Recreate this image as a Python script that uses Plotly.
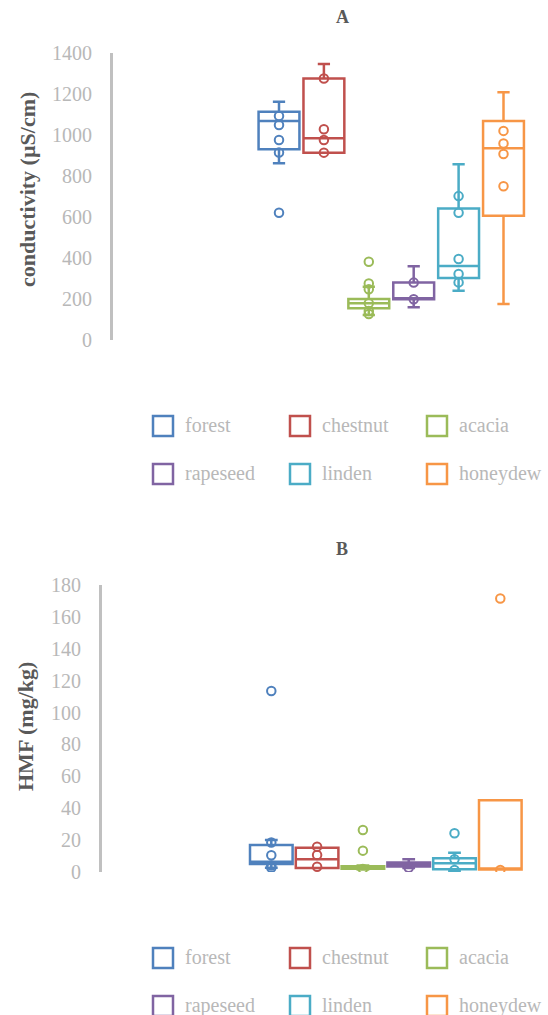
import plotly.graph_objects as go

# ---------------- data ----------------
categories = ["forest", "chestnut", "acacia", "rapeseed", "linden", "honeydew"]
colors = ["#4F81BD", "#C0504D", "#9BBB59", "#8064A2", "#4BACC6", "#F79646"]

# Panel A: conductivity (µS/cm)
cond_q1 = [930, 914, 155, 199, 302, 606]
cond_median = [1068, 984, 179, 204, 361, 935]
cond_q3 = [1114, 1276, 200, 281, 642, 1068]
cond_lower = [862, 914, 122, 160, 240, 176]
cond_upper = [1162, 1346, 260, 360, 857, 1208]
cond_points = [
    [1093, 1049, 976, 915, 621],
    [1276, 1028, 976, 914],
    [382, 276, 247, 179, 141, 127],
    [280, 199],
    [702, 621, 395, 322, 281],
    [1020, 959, 907, 750],
]
cond_ticks = [0, 200, 400, 600, 800, 1000, 1200, 1400]

# Panel B: HMF (mg/kg)
hmf_q1 = [5, 2.5, 2.0, 3.5, 1.7, 1.5]
hmf_median = [6.5, 8, 2.8, 4.5, 5.5, 1.5]
hmf_q3 = [17, 15.2, 3.6, 6, 8.6, 45]
hmf_lower = [2.7, 2.5, 1.5, 2.5, 0.5, 1.5]
hmf_upper = [20, 15.2, 4, 8, 12.1, 45]
hmf_points = [
    [113.5, 18.5, 10.5, 4, 2.7],
    [15.9, 10.7, 3.3],
    [26.3, 13.4, 1.9],
    [2.7],
    [24.3, 8, 1.3],
    [171.5, 1.3],
]
hmf_ticks = [0, 20, 40, 60, 80, 100, 120, 140, 160, 180]

# ---------------- layout helpers ----------------
W, H = 548, 1015
FONT = "Liberation Serif"
TICK_COLOR = "#b8b8b8"
TITLE_COLOR = "#595959"


def fx(px):
    return px / W


def fy(py):
    return 1 - py / H


fig = go.Figure()


def add_panel(xa, ya, q1, med, q3, lo, hi, pts, bw):
    for i, cat in enumerate(categories):
        fig.add_trace(go.Box(
            x=[cat], q1=[q1[i]], median=[med[i]], q3=[q3[i]],
            lowerfence=[lo[i]], upperfence=[hi[i]],
            width=bw, whiskerwidth=0.3, boxpoints=False,
            line=dict(color=colors[i], width=2.5),
            fillcolor="rgba(0,0,0,0)",
            xaxis=xa, yaxis=ya, name=cat, showlegend=False,
            hoverinfo="skip",
        ))
        fig.add_trace(go.Scatter(
            x=[cat] * len(pts[i]), y=pts[i], mode="markers",
            marker=dict(symbol="circle-open", size=8.5, color=colors[i],
                        line=dict(width=2, color=colors[i])),
            xaxis=xa, yaxis=ya, showlegend=False, hoverinfo="skip",
        ))


add_panel("x", "y", cond_q1, cond_median, cond_q3, cond_lower, cond_upper,
          cond_points, 0.91)
add_panel("x2", "y2", hmf_q1, hmf_median, hmf_q3, hmf_lower, hmf_upper,
          hmf_points, 0.93)

yaxis_common = dict(
    showline=True, linecolor="#c0c0c0", linewidth=3, showgrid=False,
    zeroline=False, ticks="", ticklabelstandoff=14, automargin=False,
    tickfont=dict(family=FONT, size=20, color=TICK_COLOR),
)

# pixel geometry of the two panels
top_left, top_c0, top_step = 113, 279, 44.9
bot_left, bot_c0, bot_step = 102, 271.3, 45.8
right = 540

fig.update_layout(
    width=W, height=H,
    margin=dict(l=0, r=0, t=0, b=0, pad=0, autoexpand=False),
    paper_bgcolor="white", plot_bgcolor="white",
    showlegend=False,
    xaxis=dict(domain=[fx(top_left), fx(right)], anchor="y", type="category",
               categoryorder="array", categoryarray=categories,
               range=[(top_left - top_c0) / top_step, (right - top_c0) / top_step],
               visible=False, automargin=False),
    yaxis=dict(domain=[fy(340), fy(53)], anchor="x", range=[0, 1400],
               tickvals=cond_ticks, **yaxis_common),
    xaxis2=dict(domain=[fx(bot_left), fx(right)], anchor="y2", type="category",
                categoryorder="array", categoryarray=categories,
                range=[(bot_left - bot_c0) / bot_step, (right - bot_c0) / bot_step],
                visible=False, automargin=False),
    yaxis2=dict(domain=[fy(872), fy(585)], anchor="x2", range=[0, 180],
                tickvals=hmf_ticks, **yaxis_common),
)

annotations = []
shapes = []

# panel titles
for txt, py in [("A", 17), ("B", 549)]:
    annotations.append(dict(
        text="<b>%s</b>" % txt, x=fx(342), y=fy(py), xref="paper", yref="paper",
        xanchor="center", yanchor="middle", showarrow=False,
        font=dict(family=FONT, size=18, color=TITLE_COLOR)))

# y-axis titles
for txt, px, py in [("conductivity (µS/cm)", 27, 190), ("HMF (mg/kg)", 25, 727)]:
    annotations.append(dict(
        text="<b>%s</b>" % txt, x=fx(px), y=fy(py), xref="paper", yref="paper",
        xanchor="center", yanchor="middle", showarrow=False, textangle=-90,
        font=dict(family=FONT, size=22, color=TITLE_COLOR)))

# legends (3 columns x 2 rows each)
leg_cols = [153, 290, 427]
for rows in ([426, 474], [958, 1006]):
    for i, cat in enumerate(categories):
        sx = leg_cols[i % 3]
        cy = rows[i // 3]
        shapes.append(dict(
            type="rect", xref="paper", yref="paper",
            x0=fx(sx), x1=fx(sx + 20), y0=fy(cy + 10), y1=fy(cy - 10),
            line=dict(color=colors[i], width=2.5), fillcolor="white"))
        annotations.append(dict(
            text=cat, x=fx(sx + 30), y=fy(cy - 1), xref="paper", yref="paper",
            xanchor="left", yanchor="middle", showarrow=False,
            font=dict(family=FONT, size=20, color=TICK_COLOR)))

fig.update_layout(annotations=annotations, shapes=shapes)

fig.write_html(
    "out.html",
    config={"displayModeBar": False},
    post_script="document.body.style.margin='0';document.body.style.overflow='hidden';",
)
